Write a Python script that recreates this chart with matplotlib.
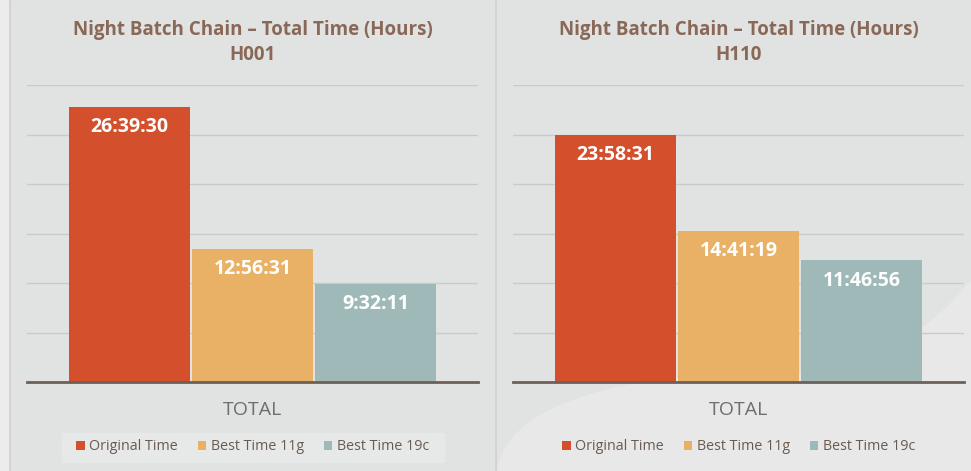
import matplotlib
matplotlib.use("Agg")
import matplotlib.pyplot as plt
from matplotlib.lines import Line2D
from matplotlib.patches import Rectangle, Patch, PathPatch
from matplotlib.path import Path

# ---- data ----
series = ["Original Time", "Best Time 11g", "Best Time 19c"]
category = "TOTAL"
panels = ["H001", "H110"]
labels_h001 = ["26:39:30", "12:56:31", "9:32:11"]
labels_h110 = ["23:58:31", "14:41:19", "11:46:56"]
colors = ["#d44f2c", "#e9b165", "#9fb9b9"]
title_main = "Night Batch Chain \u2013 Total Time (Hours)"

def to_hours(s):
    h, m, sec = [int(v) for v in s.split(":")]
    return h + m / 60 + sec / 3600

values = {"H001": [to_hours(s) for s in labels_h001],
          "H110": [to_hours(s) for s in labels_h110]}
labels = {"H001": labels_h001, "H110": labels_h110}

BG = "#e1e3e2"
TITLE_C = "#8a6857"
FONT = "Open Sans"

W, H = 971, 471
fig = plt.figure(figsize=(W / 100, H / 100), dpi=100, facecolor=BG)

def fp(x, y):
    return (x / W, 1 - y / H)

# panel decorations
fig.add_artist(Rectangle((0, 0), 8 / W, 1, transform=fig.transFigure, color="#ececec", zorder=0))
fig.add_artist(Line2D([9.5 / W, 9.5 / W], [0, 1], transform=fig.transFigure, color="#cfd1d0", lw=1.2))
fig.add_artist(Line2D([496 / W, 496 / W], [0, 1], transform=fig.transFigure, color="#cfd1d0", lw=1.2))
fig.add_artist(Rectangle((62 / W, (471 - 462) / H), 382 / W, 29 / H, transform=fig.transFigure,
                         color="#e7e9e8", zorder=0))
# lighter textured area (approximation) on the right panel
verts = [fp(497, 471), fp(505, 400), fp(640, 372), fp(760, 374),
         fp(870, 376), fp(930, 330), fp(971, 280),
         fp(971, 471), fp(497, 471)]
codes = [Path.MOVETO, Path.CURVE4, Path.CURVE4, Path.CURVE4,
         Path.CURVE4, Path.CURVE4, Path.CURVE4,
         Path.LINETO, Path.CLOSEPOLY]
fig.add_artist(PathPatch(Path(verts, codes), transform=fig.transFigure,
                         facecolor="#e7e8e7", edgecolor="none", zorder=0))

ax_lefts = [27, 513]
ax_w = 451
y_base = 382
y_top = 85
for i, p in enumerate(panels):
    ax = fig.add_axes([ax_lefts[i] / W, (H - y_base) / H, ax_w / W, (y_base - y_top) / H])
    ax.set_facecolor("none")
    xs = [-1, 0, 1]
    vals = values[p]
    for x, v, c, lab in zip(xs, vals, colors, labels[p]):
        ax.bar(x, v, width=0.985, color=c, zorder=3)
        ax.text(x, v - 1.94, lab, ha="center", va="center", color="white",
                fontsize=14, fontweight="bold", family=FONT, zorder=4)
    ax.set_xlim(-1.833, 1.833)
    ax.set_ylim(0, 28.8)
    ax.set_yticks([4.8 * k for k in range(1, 7)])
    ax.grid(axis="y", color="#c9cbca", lw=1.0, zorder=0)
    ax.tick_params(left=False, bottom=False, labelleft=False, labelbottom=False)
    for s in ["top", "right", "left"]:
        ax.spines[s].set_visible(False)
    ax.spines["bottom"].set_color("#6e5f58")
    ax.spines["bottom"].set_linewidth(2)
    ax.spines["bottom"].set_zorder(5)

    cx = (ax_lefts[i] + ax_w / 2) / W
    fig.text(cx, 1 - 30 / H, title_main, ha="center", va="center", color=TITLE_C,
             fontsize=13.5, fontweight="bold", family=FONT)
    fig.text(cx, 1 - 55 / H, p, ha="center", va="center", color=TITLE_C,
             fontsize=13.5, fontweight="bold", family=FONT)
    fig.text(cx, 1 - 410 / H, category, ha="center", va="center", color="#6e6e6e",
             fontsize=14, family=FONT)
    handles = [Patch(facecolor=c, edgecolor="none") for c in colors]
    fig.legend(handles, series, loc="center", bbox_to_anchor=(cx, 1 - 447 / H),
               ncol=3, frameon=False, handlelength=0.6, handleheight=0.6,
               handletextpad=0.3, columnspacing=1.4, labelcolor="#6b5a50",
               prop={"family": FONT, "size": 10.3})

fig.savefig("out.png", dpi=100, facecolor=BG)
